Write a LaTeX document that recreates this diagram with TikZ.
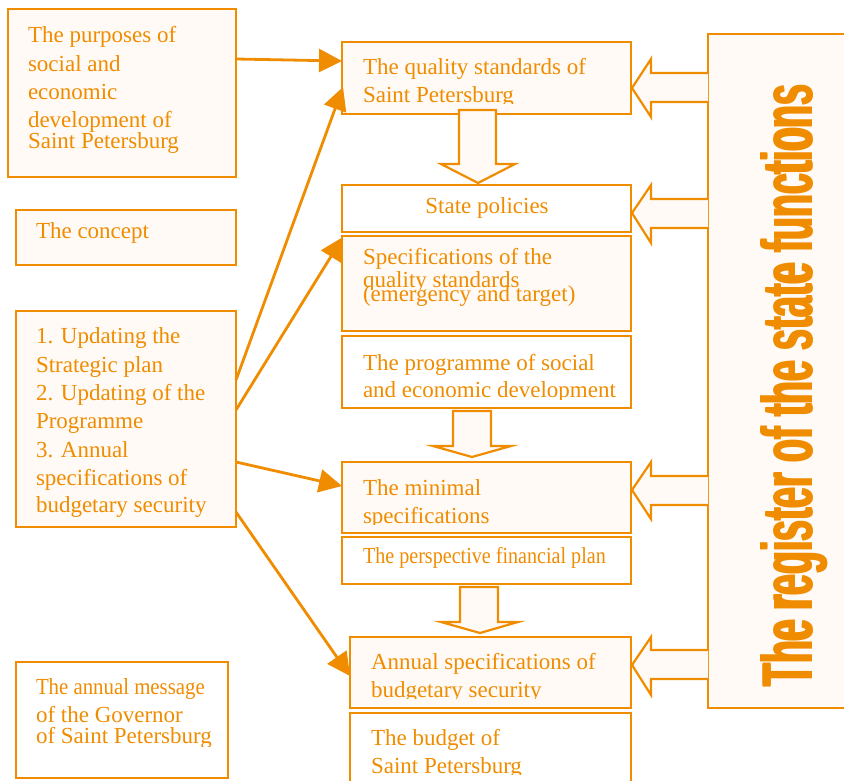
\documentclass[tikz,border=0pt]{standalone}
\usepackage{fontspec}
\setmainfont{Liberation Serif}
\setsansfont{Liberation Sans}
\usetikzlibrary{arrows.meta}
\definecolor{ora}{RGB}{240,140,0}
\definecolor{cream}{RGB}{255,250,246}

% rectangle node given by its corners: name, style, x1, y1, x2, y2
\newcommand{\mkbox}[6]{%
  \node[#2, anchor=north west, minimum width={#5-#3}, minimum height={#6-#4}] (#1) at (#3,#4) {};}
% heavy condensed title: the line is overprinted with small offsets to widen the stems
\newcommand{\regline}{The register of the state functions}
\newcommand{\heavyline}{\rlap{\kern0.3pt\regline}\rlap{\kern0.6pt\regline}\regline}

\begin{document}
\begin{tikzpicture}[x=1pt, y=-1pt,
  box/.style={draw=ora, line width=2.3pt, inner sep=0pt, outer sep=0pt},
  cbox/.style={box, fill=cream},
  wbox/.style={box, fill=white},
  txt/.style={text=ora, font=\fontsize{23}{28}\selectfont, anchor=base west, inner sep=0pt, outer sep=0pt},
  conn/.style={draw=ora, line width=2.8pt, -{Triangle[length=23pt,width=23pt]}},
  blockarrow/.style={draw=ora, line width=2.2pt, fill=cream, line join=miter},
]
\useasboundingbox (0,0) rectangle (844,780);
\clip (0,0) rectangle (844,780);

% ---------- left column ----------
\mkbox{purp}{cbox}{8}{9}{236}{177}
\node[txt] (purp1) at (28,42)  {The purposes of};
\node[txt] (purp2) at (28,71)  {social and};
\node[txt] (purp3) at (28,99)  {economic};
\node[txt] (purp4) at (28,127) {development of};
\node[txt] (purp5) at (28,148) {Saint Petersburg};

\mkbox{concept}{cbox}{16}{210}{236}{265}
\node[txt] (concept1) at (36,238) {The concept};

\mkbox{upd}{cbox}{16}{311}{236}{527}
\node[txt] (upd1) at (36,343) {1. Updating the};
\node[txt] (upd2) at (36,372) {Strategic plan};
\node[txt] (upd3) at (36,400) {2. Updating of the};
\node[txt] (upd4) at (36,428) {Programme};
\node[txt] (upd5) at (36,457) {3. Annual};
\node[txt] (upd6) at (36,485) {specifications of};
\node[txt] (upd7) at (36,512) {budgetary security};

\mkbox{msg}{wbox}{16}{662}{228}{778}
\node[txt] (msg1) at (36,694) {\scalebox{0.905}[1]{The annual message}};
\node[txt] (msg2) at (36,722) {of the Governor};
\begin{scope}
  \clip (16,662) rectangle (228,746);
  \node[txt] (msg3) at (36,743) {of Saint Petersburg};
\end{scope}

% ---------- central column ----------
\mkbox{qual}{cbox}{342}{42}{631}{114}
\node[txt] (qual1) at (363,74) {The quality standards of};
\begin{scope}
  \clip (342,42) rectangle (631,103.5);
  \node[txt] (qual2) at (363,102) {Saint Petersburg};
\end{scope}

\mkbox{pol}{wbox}{342}{185}{631}{232}
\node[txt, anchor=base] (pol1) at (487,213) {State policies};

\mkbox{spec}{cbox}{342}{236}{631}{331}
\node[txt] (spec1) at (363,264) {Specifications of the};
\begin{scope}
  \clip (342,236) rectangle (631,289.5);
  \node[txt] (spec2) at (363,287) {quality standards};
\end{scope}
\node[txt] (spec3) at (363,301) {(emergency and target)};

\mkbox{prog}{wbox}{342}{336}{631}{408}
\node[txt] (prog1) at (363,370) {The programme of social};
\begin{scope}
  \clip (342,336) rectangle (631,399);
  \node[txt] (prog2) at (363,397.5) {and economic development};
\end{scope}

\mkbox{mini}{cbox}{342}{462}{631}{533}
\node[txt] (mini1) at (363,495) {The minimal};
\begin{scope}
  \clip (342,462) rectangle (631,524.5);
  \node[txt] (mini2) at (363,523) {specifications};
\end{scope}

\mkbox{persp}{wbox}{342}{537}{631}{584}
\node[txt] (persp1) at (363,563) {\scalebox{0.874}[1]{The perspective financial plan}};

\mkbox{annual}{cbox}{350}{637}{631}{708}
\node[txt] (annual1) at (371,669) {Annual specifications of};
\begin{scope}
  \clip (350,637) rectangle (631,698);
  \node[txt] (annual2) at (371,697) {budgetary security};
\end{scope}

\mkbox{budget}{wbox}{350}{713}{631}{792}
\node[txt] (budget1) at (371,745) {The budget of};
\begin{scope}
  \clip (350,713) rectangle (631,774);
  \node[txt] (budget2) at (371,773) {Saint Petersburg};
\end{scope}

% ---------- register of the state functions ----------
\mkbox{reg}{cbox}{708}{34}{852}{708}
\node[text=ora, rotate=90, anchor=base west, inner sep=0pt] (regtxt) at (812,688)
  {\resizebox{602pt}{52pt}{\sffamily\bfseries\heavyline}};

% ---------- hollow arrows between the stages ----------
\draw[blockarrow] (459,110) -- (459,164) -- (441,164) -- (478,183) -- (515,164) -- (496,164) -- (496,110) -- cycle;
\draw[blockarrow] (453,411) -- (453,446) -- (433,446) -- (472,457) -- (511,446) -- (491,446) -- (491,411) -- cycle;
\draw[blockarrow] (460,587) -- (460,622) -- (441,622) -- (480,633) -- (518,622) -- (498,622) -- (498,587) -- cycle;

% ---------- hollow arrows from the register ----------
\draw[blockarrow] (708,73)  -- (651,73)  -- (651,59)  -- (632,88)  -- (651,117) -- (651,102) -- (708,102);
\draw[blockarrow] (708,199) -- (651,199) -- (651,185) -- (632,213) -- (651,243) -- (651,228) -- (708,228);
\draw[blockarrow] (708,476) -- (651,476) -- (651,462) -- (632,490) -- (651,519) -- (651,505) -- (708,505);
\draw[blockarrow] (708,650) -- (651,650) -- (651,637) -- (632,665) -- (651,695) -- (651,679) -- (708,679);

% ---------- connectors ----------
\coordinate (pa) at (236,59);   \coordinate (qa) at (342,61);
\coordinate (ub) at (236,380);  \coordinate (qb) at (343,87);
\coordinate (uc) at (236,410);  \coordinate (sc) at (343,237);
\coordinate (ud) at (236,462);  \coordinate (md) at (342,486);
\coordinate (ue) at (236,512);  \coordinate (ae) at (350,676);
\draw[conn] (pa) -- (qa);
\draw[conn] (ub) -- (qb);
\draw[conn] (uc) -- (sc);
\draw[conn] (ud) -- (md);
\draw[conn] (ue) -- (ae);
\end{tikzpicture}
\end{document}
